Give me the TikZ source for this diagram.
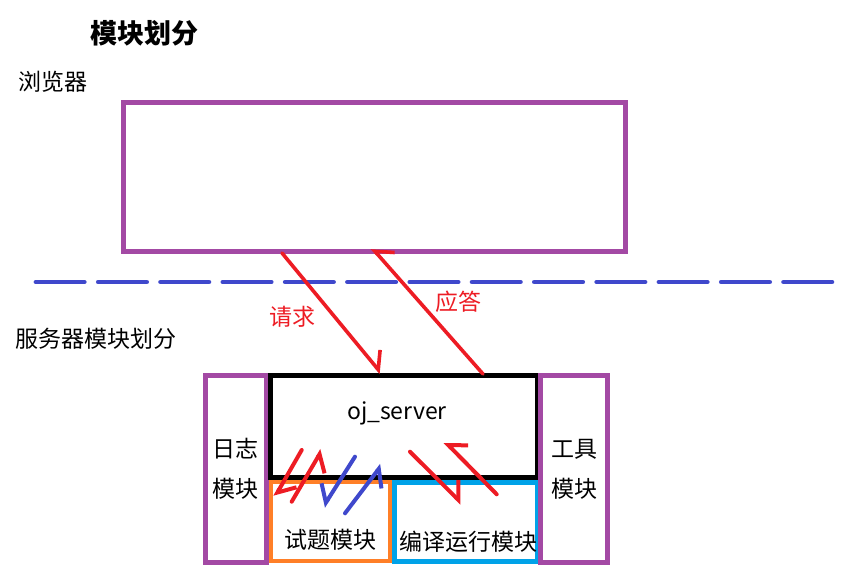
\documentclass[tikz,border=0pt]{standalone}
\usepackage{fontspec}
\setmainfont{Noto Sans CJK SC}
\usetikzlibrary{arrows.meta}

\definecolor{pur}{HTML}{A349A4}
\definecolor{ink}{HTML}{3F48CC}
\definecolor{rd}{HTML}{ED1C24}
\definecolor{org}{HTML}{FF7F27}
\definecolor{cy}{HTML}{00A2E8}

\tikzset{
  tl/.style={-{Straight Barb[left,length=7pt,width=14pt]}},
  tr/.style={-{Straight Barb[right,length=7pt,width=14pt]}}
}

\begin{document}
\begin{tikzpicture}[x=0.5pt,y=-0.5pt]
        \useasboundingbox (0,0) rectangle (847,587);

        \begin{scope}[every node/.style={inner sep=0pt, font=\fontsize{11.5}{20}\selectfont, align=center}]
          \node[draw=pur, line width=2.5pt, minimum width=250.75pt, minimum height=74.5pt] (1) at (374.25,177.5) {};
          \node[draw=pur, line width=2.5pt, minimum width=30.25pt, minimum height=93.5pt]  (2) at (235.75,469) {日志\\模块};
          \node[draw=org, line width=2pt, minimum width=59.75pt, minimum height=39.5pt]    (3) at (330.25,522) {};
          \node[draw=cy, line width=2.5pt, minimum width=71.5pt, minimum height=39.5pt]    (4) at (466,522) {};
          \node[draw, line width=2.6pt, minimum width=133.5pt, minimum height=51pt]        (5) at (404,426.5) {};
          \node[draw=pur, line width=2.5pt, minimum width=33.5pt, minimum height=93.5pt]   (6) at (574,469) {工具\\模块};

          \node[font=\fontsize{13.5}{16}\selectfont\bfseries] (t)  at (144.5,33) {模块划分};
          \node (b)  at (53,82)   {浏览器};
          \node (s)  at (96,339)  {服务器模块划分};
          \node (o)  at (397,413) {oj\_server};
          \node (q)  at (330,540) {试题模块};
          \node (c)  at (468,542) {编译运行模块};
          \node[text=rd] (r1) at (292,317) {请求};
          \node[text=rd] (r2) at (458,302) {应答};
        \end{scope}

        % dashed divider
        \coordinate (d1) at (36,282);
        \coordinate (d2) at (832,282);
        \draw[ink, line width=2.4pt, line cap=round, dash pattern=on 24.15pt off 7pt] (d1) -- (d2);

        % arrow ends
        \coordinate (a1) at (282,253);    \coordinate (a2) at (381,373);
        \coordinate (a3) at (483,374);    \coordinate (a4) at (372,248);
        \coordinate (a5) at (301.7,450);  \coordinate (a6) at (275,496.7);
        \coordinate (a7) at (291.7,501.7);\coordinate (a8) at (322,450);
        \coordinate (a9) at (355,456.7);  \coordinate (a10) at (323.3,506.7);
        \coordinate (a11) at (345,513.3); \coordinate (a12) at (381.7,465);
        \coordinate (a13) at (410,451.7); \coordinate (a14) at (461.7,503.3);
        \coordinate (a15) at (496.7,494.3);\coordinate (a16) at (445,441.7);

        \begin{scope}[every edge/.style={draw, line cap=round, line join=round}]
          \path (a1)  edge[rd, line width=1.8pt, tl] (a2);
          \path (a3)  edge[rd, line width=1.8pt, tr] (a4);
          \path (a5)  edge[rd, line width=2pt, tl] (a6);
          \path (a7)  edge[rd, line width=2pt, tr] (a8);
          \path (a9)  edge[ink, line width=2pt, tr] (a10);
          \path (a11) edge[ink, line width=2pt, tr] (a12);
          \path (a13) edge[rd, line width=2pt, tl] (a14);
          \path (a15) edge[rd, line width=2pt, tr] (a16);
        \end{scope}

      \end{tikzpicture}
\end{document}
